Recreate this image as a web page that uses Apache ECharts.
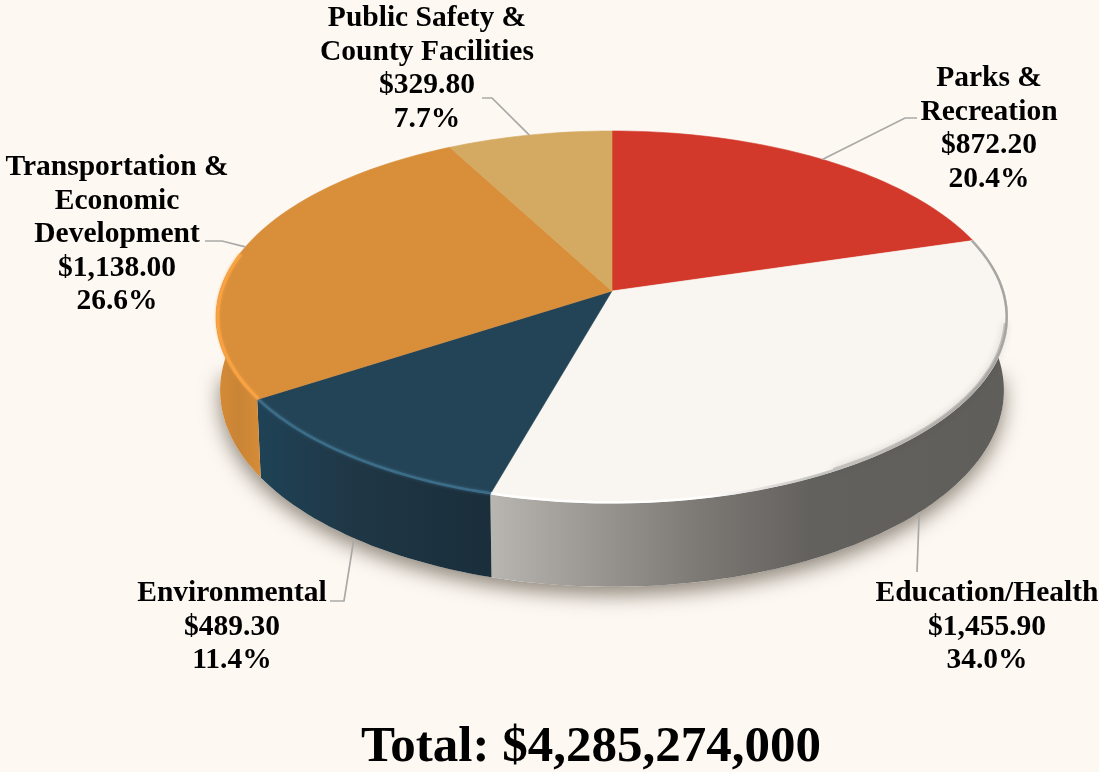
<!DOCTYPE html>
<html><head><meta charset="utf-8">
<style>html,body{margin:0;padding:0;background:#fdf8f2}#c{width:1099px;height:772px}</style>
<script src="https://cdn.jsdelivr.net/npm/echarts@6/dist/echarts.min.js"></script>
</head><body><div id="c"></div>
<script>
// ---- data ----
const categories = ['Parks &\nRecreation','Education/Health','Environmental','Transportation &\nEconomic\nDevelopment','Public Safety &\nCounty Facilities'];
const values = [872.20,1455.90,489.30,1138.00,329.80];
const valueLabels = ['$872.20','$1,455.90','$489.30','$1,138.00','$329.80'];
const percentLabels = ['20.4%','34.0%','11.4%','26.6%','7.7%'];
const totalLabel = 'Total: $4,285,274,000';

// ---- styles and layout ----
const SERIF = '"Liberation Serif","Times New Roman",serif';
const topColors = ['#d3392b','#f9f5f0','#234356','#d98e3a','#d4aa62'];
const rimColors = ['#d3392b','#ffffff','#3f7390','#f9a341','#d4aa62'];
const wallStops = [
  [[0,'#a32a20'],[1,'#a32a20']],
  [[0,'#b8b6b1'],[0.14,'#a3a09b'],[0.4,'#7d7975'],[0.62,'#63615e'],[1,'#605e5b']],
  [[0,'#1f4256'],[0.45,'#1f3644'],[1,'#1a2e3b']],
  [[0,'#d68c38'],[0.5,'#c98435'],[1,'#d68c38']],
  [[0,'#a8864c'],[1,'#a8864c']]
];
const labelCenters = [[989,62],[987,577],[232,577],[117,151],[427,2]];
const leaderBends = [
  [[905,118],[917,118]],
  [[917,572]],
  [[344,601],[330,601]],
  [[222,241],[205,241]],
  [[492,98],[482,98]]
];
const frontLeader = [false,true,true,false,false];
// perspective projection of the pie disc
const CX=612, CY=291, FX=392, FY=182.4, K=0.1398, DEPTH=72, BASE=0.99;
const project=(deg,drop,r)=>{
  const t=deg*Math.PI/180, R=r===undefined?1:r, X=Math.sin(t)*R*(drop?BASE:1), Z=Math.cos(t)*R, w=1+K*Z;
  return [CX+FX*X/w, CY-FY*Z/w+(drop?DEPTH/w:0)];
};
const arc=(a,b,drop,r)=>{
  const n=Math.max(4,Math.ceil(Math.abs(b-a)/1.5)), out=[];
  for(let i=0;i<=n;i++) out.push(project(a+(b-a)*i/n,drop,r));
  return out;
};
const sum=values.reduce((s,v)=>s+v,0);
const startDeg=i=>values.slice(0,i).reduce((s,v)=>s+v,0)/sum*360;
const clipFront=(a,b)=>[Math.max(a,84),Math.min(b,276)];

function renderItem(params,api){
  const i=params.dataIndex, a=startDeg(i), b=a+api.value(0)/sum*360, mid=(a+b)/2;
  const kids=[];
  if(i===0){
    kids.push({type:'polygon',z2:0,shape:{points:arc(92,268,true)},
      style:{fill:'#fdf8f2',shadowColor:'rgba(70,60,45,0.6)',shadowBlur:20,shadowOffsetY:8,shadowOffsetX:0}});
    kids.push({type:'text',z2:6,style:{text:totalLabel,x:591,y:748,align:'center',verticalAlign:'middle',
      font:'bold 51px '+SERIF,fill:'#000'}});
  }
  const [fa,fb]=clipFront(a,b);
  if(fb>fa){
    const wall=[...arc(fa,fb,false),...arc(fb,fa,true)];
    kids.push({type:'polygon',z2:1,shape:{points:wall},style:{fill:{type:'linear',x:0,y:0,x2:1,y2:0,
      colorStops:wallStops[i].map(s=>({offset:s[0],color:s[1]}))}}});
  }
  const top=[[CX,CY],...arc(a,b,false)];
  kids.push({type:'polygon',z2:3,shape:{points:top},style:{fill:topColors[i],stroke:topColors[i],lineWidth:0.6}});
  if(i===1){
    kids.push({type:'polyline',z2:4,shape:{points:arc(100,150,false,0.994)},
      style:{fill:null,stroke:'rgba(120,118,114,0.35)',lineWidth:3,shadowBlur:7,shadowColor:'rgba(70,68,64,0.7)'}});
    kids.push({type:'polyline',z2:4,shape:{points:arc(a,b,false,0.997)},
      style:{fill:null,lineWidth:2.5,stroke:{type:'linear',x:0,y:0,x2:1,y2:0,colorStops:[
        {offset:0,color:'#ffffff'},{offset:0.42,color:'#ffffff'},{offset:0.62,color:'#c9c7c3'},{offset:1,color:'#a5a3a0'}]}}});
  }
  if(i===2){
    kids.push({type:'polyline',z2:4,shape:{points:arc(a,b,false,0.997)},
      style:{fill:null,stroke:rimColors[2],lineWidth:2.5,opacity:0.75,shadowBlur:3,shadowColor:rimColors[2]}});
  }
  if(i===3){
    kids.push({type:'polyline',z2:4,shape:{points:arc(a,282,false,0.996)},
      style:{fill:null,stroke:rimColors[3],lineWidth:3,opacity:0.9,shadowBlur:3,shadowColor:rimColors[3]}});
  }
  const leader=[project(mid,frontLeader[i]),...leaderBends[i]];
  kids.push({type:'polyline',z2:5,shape:{points:leader},style:{fill:null,stroke:'#a9a9a7',lineWidth:1.7}});
  const lines=[categories[i],valueLabels[i],percentLabels[i]].join('\n');
  kids.push({type:'text',z2:6,style:{text:lines,x:labelCenters[i][0],y:labelCenters[i][1],align:'center',verticalAlign:'top',
    font:'bold 29.5px '+SERIF,lineHeight:33.4,fill:'#000'}});
  return {type:'group',children:kids};
}
const chart=echarts.init(document.getElementById('c'),null,{renderer:'canvas'});
chart.setOption({
  animation:false,
  backgroundColor:'#fdf8f2',
  series:[{type:'custom',coordinateSystem:'none',silent:true,data:values,renderItem}]
});
</script></body></html>
